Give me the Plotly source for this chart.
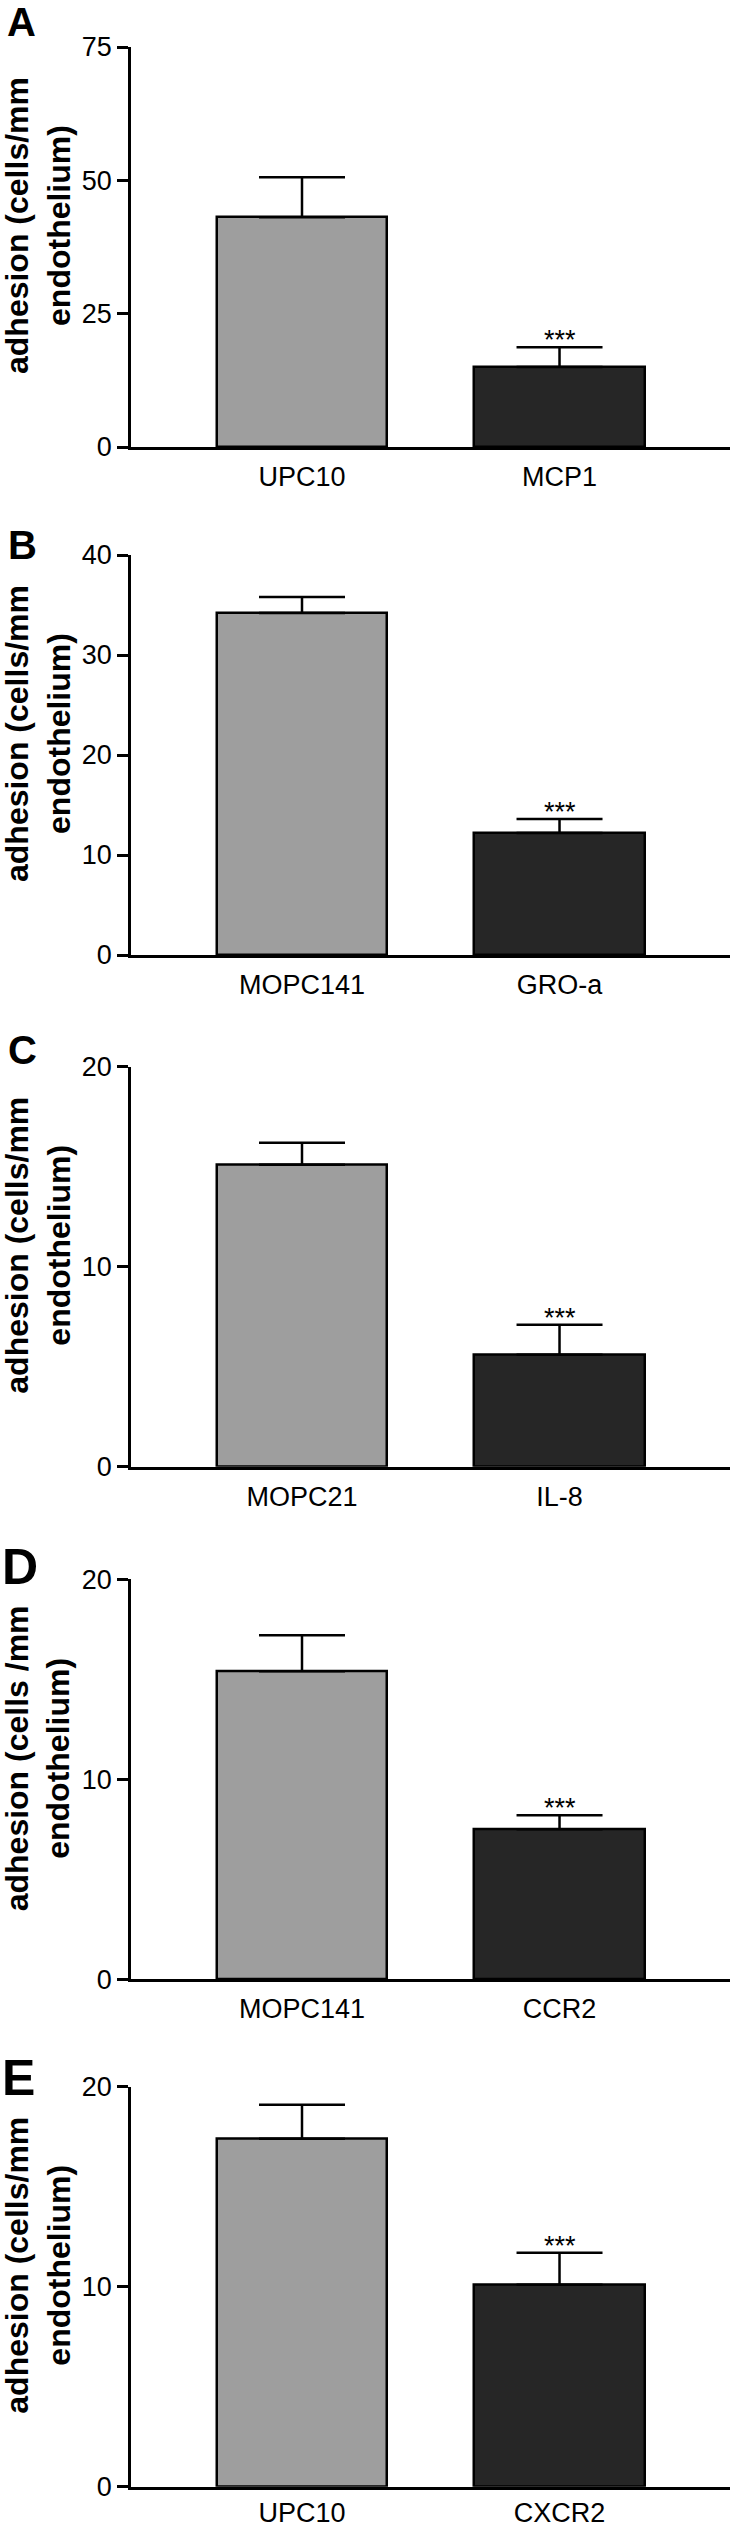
import plotly.graph_objects as go

W, H = 733, 2527

# ---- data ----
panel_letters = ["A", "B", "C", "D", "E"]
cats_A = ["UPC10", "MCP1"]
cats_B = ["MOPC141", "GRO-a"]
cats_C = ["MOPC21", "IL-8"]
cats_D = ["MOPC141", "CCR2"]
cats_E = ["UPC10", "CXCR2"]

vals_A = [43.1, 15.0]
vals_B = [34.2, 12.2]
vals_C = [15.1, 5.6]
vals_D = [15.4, 7.5]
vals_E = [17.4, 10.1]

err_A = [7.5, 3.7]
err_B = [1.6, 1.4]
err_C = [1.1, 1.5]
err_D = [1.8, 0.7]
err_E = [1.7, 1.6]

ymax_list = [75, 40, 20, 20, 20]
dtick_list = [25, 10, 10, 10, 10]
ytitle_list = [
    "adhesion (cells/mm<br>endothelium)",
    "adhesion (cells/mm<br>endothelium)",
    "adhesion (cells/mm<br>endothelium)",
    "adhesion (cells /mm<br>endothelium)",
    "adhesion (cells/mm<br>endothelium)",
]
sig_label = "***"

cats_all = [cats_A, cats_B, cats_C, cats_D, cats_E]
vals_all = [vals_A, vals_B, vals_C, vals_D, vals_E]
errs_all = [err_A, err_B, err_C, err_D, err_E]

# ---- layout geometry (pixels) ----
axis_tops = [47, 555, 1066.7, 1579.3, 2086.7]
axis_len = 400
x_left, x_right = 131, 730
letter_pos = [(21, 22, 40), (22, 545, 40), (22, 1050, 40), (20, 1567, 50), (18, 2078, 50)]
label_standoff = [4, 4, 4, 4, 0]

bar_colors = ["#9e9e9e", "#262626"]
tick_font = dict(family="Liberation Sans, Arial, sans-serif", size=27, color="black")

def py(p):
    return 1 - p / H

fig = go.Figure()
annotations = []
layout_axes = {}

for i in range(5):
    n = "" if i == 0 else str(i + 1)
    xa, ya = "x" + n, "y" + n
    fig.add_trace(go.Bar(
        x=cats_all[i], y=vals_all[i],
        xaxis=xa, yaxis=ya,
        width=0.664,
        marker=dict(color=bar_colors, line=dict(color="black", width=2.5)),
        error_y=dict(type="data", array=errs_all[i], arrayminus=[0, 0], symmetric=False,
                     color="black", thickness=2.5, width=43),
        showlegend=False, hoverinfo="skip",
    ))
    top = axis_tops[i]
    bot = top + axis_len
    layout_axes["xaxis" + n] = dict(
        domain=[x_left / W, x_right / W], anchor=ya, type="category",
        range=[-0.664, 1.662], showline=True, linecolor="black", linewidth=2.5,
        ticks="", showgrid=False, zeroline=False, tickfont=tick_font,
        ticklabelstandoff=label_standoff[i], fixedrange=True, automargin=False,
    )
    layout_axes["yaxis" + n] = dict(
        domain=[py(bot), py(top)], anchor=xa, range=[0, ymax_list[i]],
        dtick=dtick_list[i], tick0=0, showline=True, linecolor="black", linewidth=2.5,
        ticks="outside", ticklen=11, tickwidth=2.5, tickcolor="black",
        showgrid=False, zeroline=False, tickfont=tick_font, fixedrange=True,
        automargin=False,
    )
    # significance stars above the second bar's error bar
    annotations.append(dict(
        x=cats_all[i][1], y=vals_all[i][1] + errs_all[i][1], xref=xa, yref=ya,
        text=sig_label, showarrow=False, yanchor="middle", yshift=7,
        font=dict(family="Liberation Sans, Arial, sans-serif", size=27, color="black"),
    ))
    # y-axis title
    annotations.append(dict(
        x=38 / W, y=py(top + axis_len / 2 - 21), xref="paper", yref="paper",
        text=ytitle_list[i], textangle=-90, showarrow=False,
        xanchor="center", yanchor="middle", align="center",
        font=dict(family="Liberation Sans, Arial, sans-serif", size=32, color="black", weight="bold"),
    ))
    lx, ly, ls = letter_pos[i]
    annotations.append(dict(
        x=lx / W, y=py(ly), xref="paper", yref="paper",
        text="<b>" + panel_letters[i] + "</b>", showarrow=False,
        xanchor="center", yanchor="middle",
        font=dict(family="Liberation Sans, Arial, sans-serif", size=ls, color="black"),
    ))

fig.update_layout(
    width=W, height=H, margin=dict(l=0, r=0, t=0, b=0, pad=0, autoexpand=False),
    paper_bgcolor="white", plot_bgcolor="white",
    annotations=annotations, bargap=0, **layout_axes,
)

fig.write_html("out.html", config={"displayModeBar": False},
               post_script="document.documentElement.style.margin='0';document.body.style.margin='0';"
                           "document.documentElement.style.overflow='hidden';document.body.style.overflow='hidden';")
